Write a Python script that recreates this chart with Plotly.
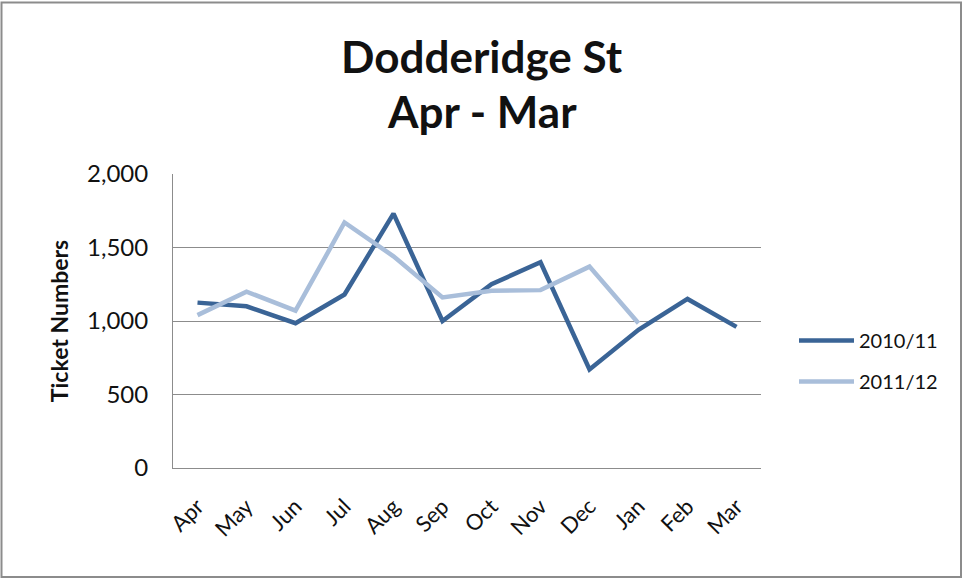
import plotly.graph_objects as go

months = ["Apr", "May", "Jun", "Jul", "Aug", "Sep", "Oct", "Nov", "Dec", "Jan", "Feb", "Mar"]
series_2010_11 = [1125, 1100, 985, 1180, 1730, 1000, 1250, 1400, 670, 940, 1150, 960]
series_2011_12 = [1040, 1200, 1070, 1670, 1440, 1160, 1205, 1210, 1370, 985, None, None]
y_ticks = [0, 500, 1000, 1500, 2000]
y_tick_labels = ["0", "500", "1,000", "1,500", "2,000"]
title_lines = ["Dodderidge St", "Apr - Mar"]

W, H = 963, 580
L, R, T, B = 173, 202, 174, 112
pw, ph = W - L - R, H - T - B

FONT = "Lato, Carlito, Calibri, 'Open Sans', sans-serif"
TXT = "#111"

fig = go.Figure()
fig.add_trace(go.Scatter(x=months, y=series_2010_11, mode="lines", name="2010/11",
                         line=dict(color="#3A6496", width=4.5), legendgroup="a"))
fig.add_trace(go.Scatter(x=months, y=series_2011_12, mode="lines", name="2011/12",
                         line=dict(color="#A9BEDA", width=4.5), legendgroup="b"))


def px_x(p):
    return (p - L) / pw


def px_y(p):
    return (H - B - p) / ph


annotations = []
for line, cy in zip(title_lines, [56, 111]):
    annotations.append(dict(text="<b>%s</b>" % line, xref="paper", yref="paper",
                            x=px_x(482), y=px_y(cy), xanchor="center", yanchor="middle",
                            showarrow=False, font=dict(size=44, family=FONT, color=TXT)))

fig.update_layout(
    width=W, height=H,
    margin=dict(l=L, r=R, t=T, b=B),
    paper_bgcolor="white", plot_bgcolor="white",
    font=dict(family=FONT, color=TXT),
    annotations=annotations,
    showlegend=True,
    legend=dict(x=px_x(794), xanchor="left", y=px_y(321), yanchor="top",
                font=dict(size=20, family=FONT, color=TXT), itemwidth=55,
                traceorder="grouped", tracegroupgap=12, bgcolor="rgba(0,0,0,0)"),
    xaxis=dict(type="category", categoryorder="array", categoryarray=months,
               range=[-0.5, 11.5], showgrid=False, showline=True, linecolor="#8C8C8C",
               linewidth=1, ticks="", tickangle=-45, ticklabelstandoff=16,
               tickfont=dict(size=22, family=FONT, color=TXT), zeroline=False,
               fixedrange=True),
    yaxis=dict(range=[0, 2000], tickvals=y_ticks, ticktext=y_tick_labels,
               showgrid=True, gridcolor="#8C8C8C", gridwidth=1, showline=True,
               linecolor="#8C8C8C", linewidth=1, ticks="", ticklabelstandoff=19,
               tickfont=dict(size=24, family=FONT, color=TXT), zeroline=False,
               title=dict(text="<b>Ticket Numbers</b>", font=dict(size=23, family=FONT, color=TXT),
                          standoff=12),
               fixedrange=True),
    shapes=[dict(type="rect", xref="paper", yref="paper",
                 x0=px_x(1.5), x1=px_x(961), y0=px_y(577), y1=px_y(2.5),
                 line=dict(color="#8C8C8C", width=2), fillcolor="rgba(0,0,0,0)", layer="below")],
)

fig.write_html("out.html", config={"displayModeBar": False},
               post_script="document.body.style.margin='0';")
